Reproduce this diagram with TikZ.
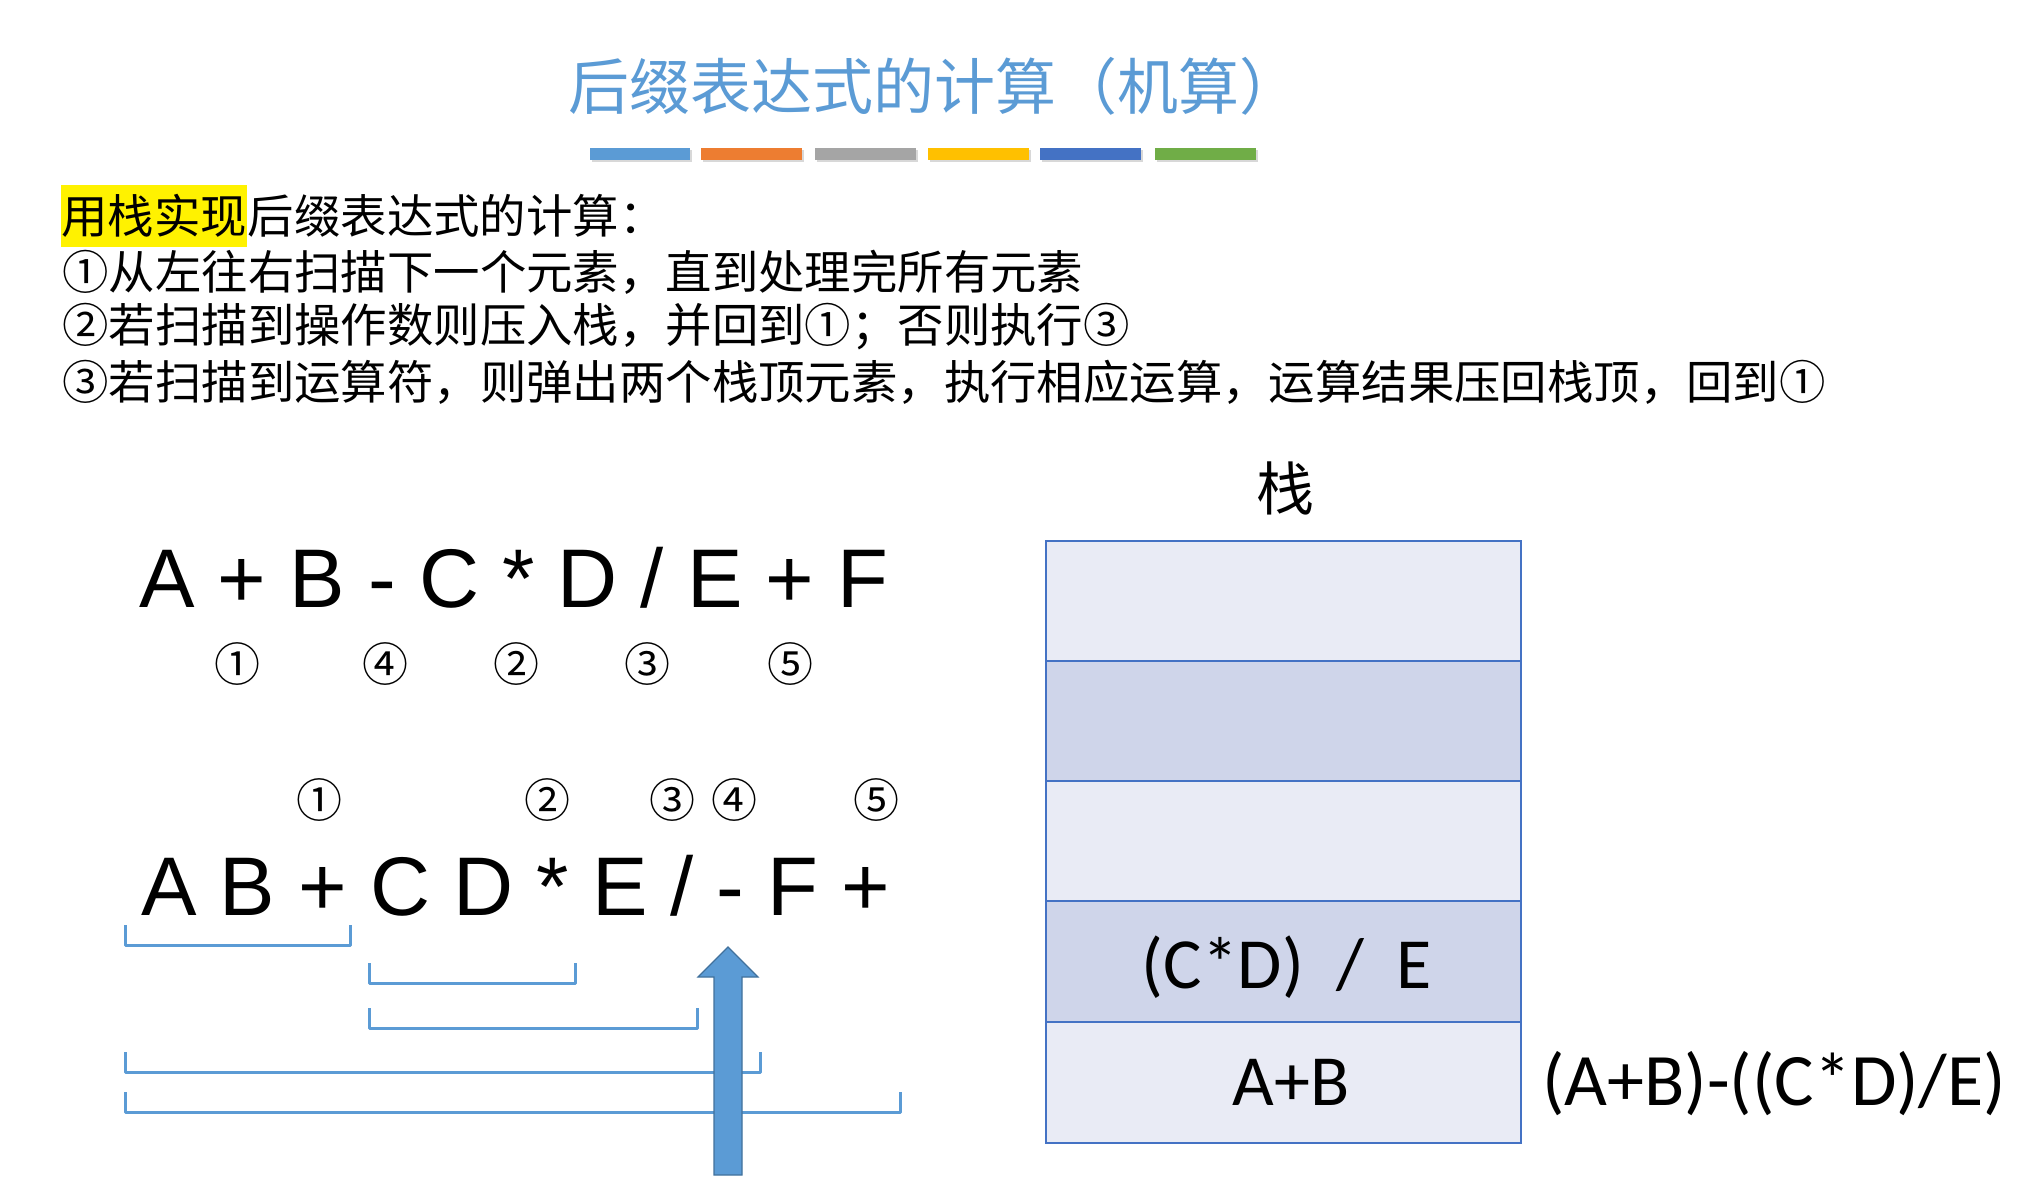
\documentclass[tikz,border=0pt]{standalone}
\usepackage{fontspec}
\setmainfont{Liberation Sans}
\newfontfamily\cjk{Noto Sans CJK SC}
\newfontfamily\calib{Carlito}
\usetikzlibrary{positioning, calc, shadows}

\definecolor{titleblue}{HTML}{5B9BD5}
\definecolor{barorange}{HTML}{ED7D31}
\definecolor{bargray}{HTML}{A5A5A5}
\definecolor{baryellow}{HTML}{FFC000}
\definecolor{bardblue}{HTML}{4472C4}
\definecolor{bargreen}{HTML}{70AD47}
\definecolor{celllight}{HTML}{E9EBF5}
\definecolor{celldark}{HTML}{CFD5EA}
\definecolor{cellline}{HTML}{4472C4}
\definecolor{arrowedge}{HTML}{41719C}

\tikzset{
  colorbar/.style={fill=#1, drop shadow={shadow xshift=0.8pt, shadow yshift=-1.2pt, opacity=0.3}},
  bracketline/.style={draw=titleblue, line width=1.5pt, line join=round},
  bodyline/.style={anchor=west, inner sep=0pt, font=\cjk\fontsize{23.2}{23.2}\selectfont},
  exprrow/.style={anchor=base west, inner sep=0pt, font=\fontsize{41.6}{41.6}\selectfont},
  stepnum/.style={inner sep=0pt, font=\cjk\fontsize{23}{23}\selectfont},
  stackcell/.style={draw=cellline, line width=1pt, fill=#1},
  celltext/.style={anchor=base, inner sep=0pt, font=\calib\fontsize{36}{36}\selectfont},
}

\begin{document}
\begin{tikzpicture}[x=0.5pt, y=-0.5pt]
    \useasboundingbox (0,0) rectangle (2018,1182);
    \fill[white] (0,0) rectangle (2018,1182);

    % ================= Title =================
    \node[text=titleblue, font=\cjk\fontsize{30.5}{30.5}\selectfont] (title) at (934,86) {后缀表达式的计算（机算）};

    % Colour bars
    \fill[colorbar=titleblue]  (590,148) rectangle (690,160);
    \fill[colorbar=barorange]  (701,148) rectangle (802,160);
    \fill[colorbar=bargray]    (815,148) rectangle (916,160);
    \fill[colorbar=baryellow]  (928,148) rectangle (1029,160);
    \fill[colorbar=bardblue]   (1040,148) rectangle (1141,160);
    \fill[colorbar=bargreen]   (1155,148) rectangle (1256,160);

    % ================= Rules =================
    \node[bodyline, fill=yellow, minimum height=31pt] (mark) at (61,216) {用栈实现};
    \node[bodyline, right=0pt of mark] (line1) {后缀表达式的计算：};
    \node[bodyline] (line2) at (62,272) {①从左往右扫描下一个元素，直到处理完所有元素};
    \node[bodyline] (line3) at (62,327) {②若扫描到操作数则压入栈，并回到①；否则执行③};
    \node[bodyline] (line4) at (62,382) {③若扫描到运算符，则弹出两个栈顶元素，执行相应运算，运算结果压回栈顶，回到①};

    % ================= Infix expression =================
    \node[exprrow] (infix) at (139,607) {A + B - C * D / E + F};
    \node[stepnum] (in1) at (237,664) {①};
    \node[stepnum] (in4) at (385,664) {④};
    \node[stepnum] (in2) at (516,664) {②};
    \node[stepnum] (in3) at (647,664) {③};
    \node[stepnum] (in5) at (790,664) {⑤};

    % ================= Postfix expression =================
    \node[stepnum] (po1) at (319,800) {①};
    \node[stepnum] (po2) at (547,800) {②};
    \node[stepnum] (po3) at (672,800) {③};
    \node[stepnum] (po4) at (734,800) {④};
    \node[stepnum] (po5) at (876,800) {⑤};
    \node[exprrow] (postfix) at (141,915) {A B + C D * E / - F +};

    % Brackets
    \draw[bracketline] (125,925) -- (125,945) -- (350,945) -- (350,925);
    \draw[bracketline] (369,963) -- (369,983) -- (575,983) -- (575,963);
    \draw[bracketline] (369,1008) -- (369,1028) -- (697,1028) -- (697,1008);
    \draw[bracketline] (125,1052) -- (125,1072) -- (760,1072) -- (760,1052);
    \draw[bracketline] (125,1092) -- (125,1112) -- (900,1112) -- (900,1092);

    % Scan pointer
    \filldraw[fill=titleblue, draw=arrowedge, line width=0.6pt]
        (728,947) -- (758,977) -- (742,977) -- (742,1175) -- (714,1175) -- (714,977) -- (698,977) -- cycle;

    % ================= Stack =================
    \node[font=\cjk\fontsize{29}{29}\selectfont] (stacklabel) at (1285,488) {栈};
    \draw[stackcell=celllight] (1046,541) rectangle (1521,661);
    \draw[stackcell=celldark]  (1046,661) rectangle (1521,781);
    \draw[stackcell=celllight] (1046,781) rectangle (1521,901);
    \draw[stackcell=celldark]  (1046,901) rectangle (1521,1022);
    \draw[stackcell=celllight] (1046,1022) rectangle (1521,1143);

    \node[celltext] (top) at (1287,988) {(C*D)\ \ /\ \ E};
    \node[celltext] (bottom) at (1291,1105) {A+B};
    \node[celltext, anchor=base west, font=\calib\fontsize{37}{37}\selectfont] (result) at (1542,1105) {(A+B)-((C*D)/E)};

\end{tikzpicture}
\end{document}
